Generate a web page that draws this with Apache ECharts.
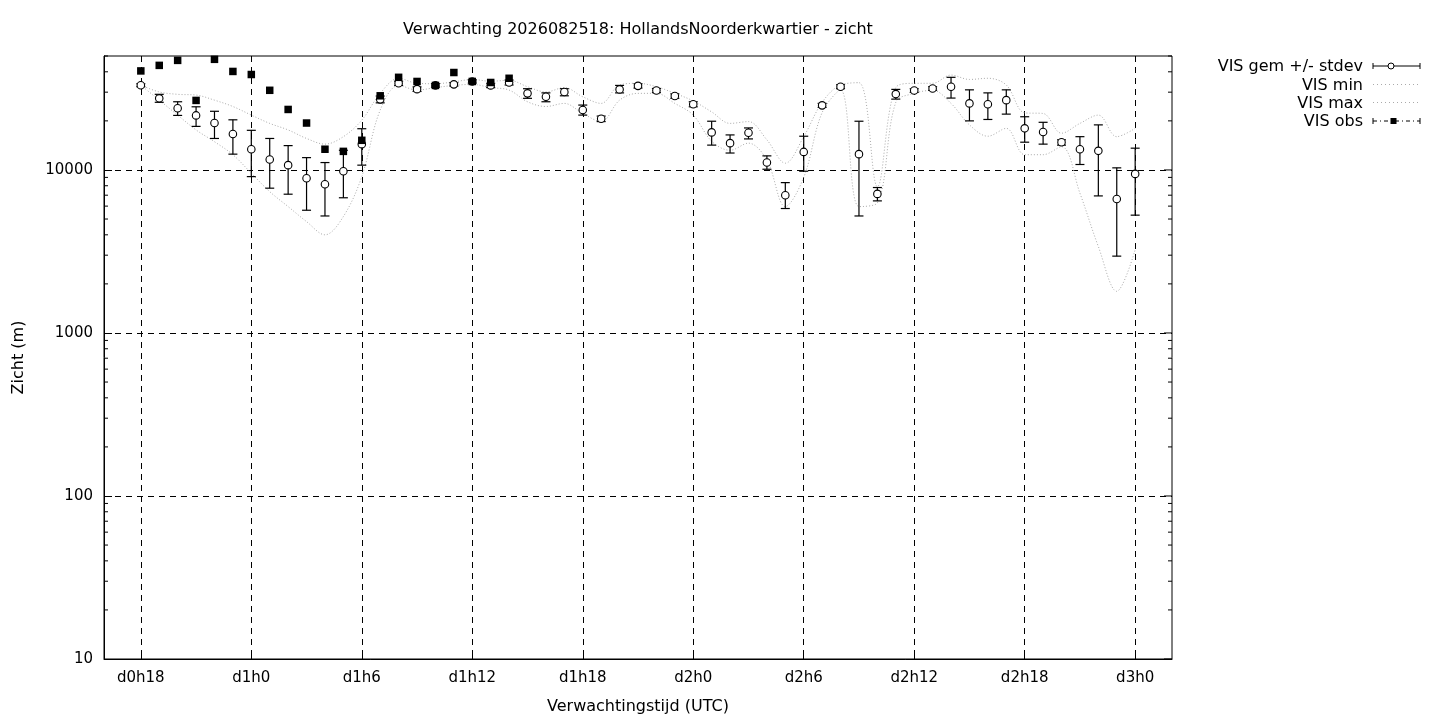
<!DOCTYPE html>
<html>
<head>
<meta charset="utf-8">
<title>Verwachting zicht</title>
<script src="https://cdn.jsdelivr.net/npm/echarts@6/dist/echarts.min.js"></script>
<style>
    html, body { margin: 0; padding: 0; background: #fff; }
    #chart { width: 1440px; height: 720px; }
</style>
</head>
<body>
<div id="chart"></div>
<script>
// uren vanaf d0h0, as loopt van d0h16 t/m d3h2
var firstHour = 16
var lastHour = 74
var dataStart = 18

// VIS gem (mean) per uur, d0h18 .. d3h0
var gem = [33100, 27500, 23900, 21600, 19400, 16600, 13400, 11600, 10700, 8890,
    8170, 9820, 14400, 27100, 34000, 31300, 33000, 33500, 34900, 33000,
    34400, 29500, 28100, 30100, 23300, 20600, 31200, 32800, 30700, 28400,
    25300, 17000, 14600, 16900, 11100, 7000, 12900, 24900, 32400, 12500,
    7130, 29200, 30700, 31600, 32400, 25600, 25300, 26800, 18000, 17100,
    14800, 13400, 13100, 6640, 9460]

// gem + stdev
var gemHigh = [33800, 29100, 26200, 24400, 22900, 20300, 17500, 15600, 14100, 11900,
    11100, 13200, 17900, 28400, 35000, 32300, 33800, 34300, 35700, 34000,
    35600, 31500, 29700, 31500, 25000, 21400, 33000, 33800, 31600, 29300,
    26200, 19900, 16400, 18100, 12200, 8360, 16100, 25600, 33300, 19900,
    7800, 31200, 31500, 32400, 37000, 31000, 29700, 31000, 21200, 19600,
    15300, 16000, 18900, 10300, 13600]

// gem - stdev
var gemLow = [32400, 26000, 21600, 18500, 15600, 12500, 9100, 7730, 7100, 5660,
    5220, 6750, 10700, 25800, 33000, 30300, 32200, 32700, 34100, 32000,
    33200, 27500, 26200, 28500, 21700, 19800, 29700, 31800, 29800, 27500,
    24400, 14200, 12700, 15500, 10100, 5800, 9820, 24200, 31500, 5220,
    6460, 27200, 29900, 30800, 27600, 20000, 20400, 22000, 14800, 14400,
    14200, 10800, 6930, 2960, 5280]

var visMin = [33100, 26800, 21700, 17600, 14900, 12400, 9550, 7360, 5960, 4820,
    4000, 5180, 9100, 23300, 33000, 30900, 32000, 33000, 33500, 32000,
    30900, 26200, 24500, 25600, 22200, 19800, 26800, 29500, 29500, 25600,
    21700, 15000, 13200, 14600, 11500, 5960, 9000, 22500, 31000, 5960,
    6280, 26000, 29500, 30800, 25600, 18900, 16100, 18000, 12400, 12400,
    13900, 7200, 3390, 1800, 3240]

var visMax = [33100, 30100, 29100, 28800, 26800, 24500, 21700, 19300, 17600, 15600,
    14400, 16000, 20200, 29500, 36500, 34000, 33800, 34700, 35900, 35000,
    35500, 32400, 30100, 32000, 28100, 25600, 33200, 34000, 32400, 29500,
    26500, 22700, 19300, 19800, 15300, 11000, 16000, 26000, 33200, 34300,
    7900, 32000, 34000, 34000, 38200, 35900, 36500, 33200, 22400, 22200,
    16800, 19300, 21700, 16000, 18000]

// waarnemingen, d0h18 .. d1h14
var obs = [40500, 43800, 47000, 26700, 47700, 40200, 38500, 30800, 23500, 19400,
    13400, 13000, 15200, 28500, 37000, 34900, 33000, 39600, 34900, 34400,
    36500]

var yTickValues = [10, 100, 1000, 10000]

var font = 'DejaVu Sans'

var hours = []
for (var h = firstHour; h <= lastHour; h++) {
    hours.push('d' + Math.floor(h / 24) + 'h' + (h % 24))
}
var offset = dataStart - firstHour

var pairs = function (arr) {
    return arr.map(function (v, i) { return [i + offset, v] })
}

// om de 6 uur een label / gridlijn
var every6h = function (index) {
    return (index + firstHour) % 6 === 0 && index + firstHour >= dataStart
}

var renderErrorBar = function (params, api) {
    var x = api.value(0)
    var top = api.coord([x, api.value(2)])
    var bottom = api.coord([x, api.value(1)])
    var w = 4.5
    var style = { stroke: '#000', lineWidth: 1.2 }
    return {
        type: 'group',
        children: [
            { type: 'line', shape: { x1: top[0], y1: top[1], x2: bottom[0], y2: bottom[1] }, style: style },
            { type: 'line', shape: { x1: top[0] - w, y1: top[1], x2: top[0] + w, y2: top[1] }, style: style },
            { type: 'line', shape: { x1: bottom[0] - w, y1: bottom[1], x2: bottom[0] + w, y2: bottom[1] }, style: style }
        ]
    }
}

var chart = echarts.init(document.getElementById('chart'))

var option = {
    animation: false,
    backgroundColor: '#fff',
    title: {
        text: 'Verwachting 2026082518: HollandsNoorderkwartier - zicht',
        left: 633,
        top: 17,
        textAlign: 'center',
        textStyle: { fontFamily: font, fontSize: 16, fontWeight: 'normal', color: '#000' }
    },
    grid: {
        left: 104,
        top: 56,
        right: 268,
        bottom: 60,
        show: true,
        borderColor: '#000',
        borderWidth: 1,
        containLabel: false
    },
    xAxis: {
        type: 'category',
        data: hours,
        boundaryGap: false,
        name: 'Verwachtingstijd (UTC)',
        nameLocation: 'middle',
        nameGap: 40,
        nameTextStyle: { fontFamily: font, fontSize: 16, color: '#000' },
        axisLine: { lineStyle: { color: '#000', width: 1 } },
        axisTick: { inside: true, length: 8, interval: every6h, lineStyle: { color: '#000' } },
        axisLabel: { interval: every6h, margin: 12, fontFamily: font, fontSize: 15, color: '#000' },
        splitLine: { show: true, interval: every6h, lineStyle: { color: '#000', type: [6, 5], width: 1 } }
    },
    yAxis: {
        type: 'log',
        logBase: 10,
        min: 10,
        max: 50000,
        interval: 1,
        name: 'Zicht (m)',
        nameLocation: 'middle',
        nameRotate: 90,
        nameGap: 77,
        nameTextStyle: { fontFamily: font, fontSize: 16, color: '#000' },
        axisLine: { show: true, lineStyle: { color: '#000', width: 1 } },
        axisTick: { show: true, inside: true, length: 8, lineStyle: { color: '#000' } },
        axisLabel: {
            margin: 11,
            fontFamily: font,
            fontSize: 15,
            color: '#000',
            showMaxLabel: false,
            formatter: function (v) {
                var r = Math.round(v)
                return yTickValues.indexOf(r) >= 0 ? String(r) : ''
            }
        },
        splitLine: {
            show: true,
            showMinLine: false,
            showMaxLine: false,
            lineStyle: { color: '#000', type: [6, 5], width: 1 }
        }
    },
    series: [
        {
            name: 'VIS min',
            type: 'line',
            data: pairs(visMin),
            smooth: 0.35,
            symbol: 'none',
            z: 1,
            lineStyle: { color: '#aaa', width: 1, type: [1, 2] }
        },
        {
            name: 'VIS max',
            type: 'line',
            data: pairs(visMax),
            smooth: 0.35,
            symbol: 'none',
            z: 1,
            lineStyle: { color: '#aaa', width: 1, type: [1, 2] }
        },
        {
            name: 'VIS gem +/- stdev',
            type: 'custom',
            renderItem: renderErrorBar,
            data: gem.map(function (v, i) { return [i + offset, gemLow[i], gemHigh[i]] }),
            encode: { x: 0, y: [1, 2] },
            z: 2
        },
        {
            name: 'VIS gem',
            type: 'scatter',
            data: pairs(gem),
            symbol: 'circle',
            symbolSize: 7.5,
            z: 3,
            itemStyle: { color: '#fff', borderColor: '#000', borderWidth: 1.1, opacity: 1 }
        },
        {
            name: 'VIS obs',
            type: 'scatter',
            data: pairs(obs),
            symbol: 'rect',
            symbolSize: 7.5,
            z: 4,
            itemStyle: { color: '#000', opacity: 1 }
        }
    ]
}

chart.setOption(option)

// kleine log-ticks links en rechts, grote ticks rechts gespiegeld
var drawAxisExtras = function () {
    var xLeft = chart.convertToPixel({ xAxisIndex: 0 }, 0)
    var xRight = chart.convertToPixel({ xAxisIndex: 0 }, hours.length - 1)
    var els = []
    var tickStyle = { stroke: '#000', lineWidth: 1 }
    yTickValues.forEach(function (d) {
        for (var k = 1; k <= 9; k++) {
            var v = d * k
            if (v > 50000) continue
            var y = chart.convertToPixel({ yAxisIndex: 0 }, v)
            var len = k === 1 ? 8 : 4
            if (k > 1) {
                els.push({ type: 'line', shape: { x1: xLeft, y1: y, x2: xLeft + len, y2: y }, style: tickStyle, z: 10 })
            }
            els.push({ type: 'line', shape: { x1: xRight, y1: y, x2: xRight - len, y2: y }, style: tickStyle, z: 10 })
        }
    })

    // legenda
    var lx1 = 1373, lx2 = 1420
    var legendText = function (text, y) {
        return {
            type: 'text', z: 10,
            style: { text: text, x: 1363, y: y, align: 'right', verticalAlign: 'middle', font: '16px "DejaVu Sans"', fill: '#000' }
        }
    }
    var caps = function (y) {
        return [
            { type: 'line', z: 10, shape: { x1: lx1, y1: y - 3, x2: lx1, y2: y + 3 }, style: tickStyle },
            { type: 'line', z: 10, shape: { x1: lx2, y1: y - 3, x2: lx2, y2: y + 3 }, style: tickStyle }
        ]
    }
    var y1 = 66, y2 = 84.5, y3 = 102.5, y4 = 121
    els.push(legendText('VIS gem +/- stdev', y1 + 1))
    els.push({ type: 'line', z: 10, shape: { x1: lx1, y1: y1, x2: lx2, y2: y1 }, style: tickStyle })
    els = els.concat(caps(y1))
    els.push({ type: 'circle', z: 11, shape: { cx: 1391, cy: y1, r: 3 }, style: { fill: '#fff', stroke: '#000', lineWidth: 1 } })

    els.push(legendText('VIS min', y2 + 1))
    els.push({ type: 'line', z: 10, shape: { x1: lx1, y1: y2, x2: lx2, y2: y2 }, style: { stroke: '#aaa', lineWidth: 1, lineDash: [1, 3] } })
    els.push(legendText('VIS max', y3 + 1))
    els.push({ type: 'line', z: 10, shape: { x1: lx1, y1: y3, x2: lx2, y2: y3 }, style: { stroke: '#aaa', lineWidth: 1, lineDash: [1, 3] } })

    els.push(legendText('VIS obs', y4 + 1))
    els.push({ type: 'line', z: 10, shape: { x1: lx1, y1: y4, x2: lx2, y2: y4 }, style: { stroke: '#000', lineWidth: 1, lineDash: [4, 3, 1, 3] } })
    els = els.concat(caps(y4))
    els.push({ type: 'rect', z: 11, shape: { x: 1390.5, y: y4 - 3, width: 6, height: 6 }, style: { fill: '#000' } })

    chart.setOption({ graphic: els })
}

drawAxisExtras()
</script>
</body>
</html>
